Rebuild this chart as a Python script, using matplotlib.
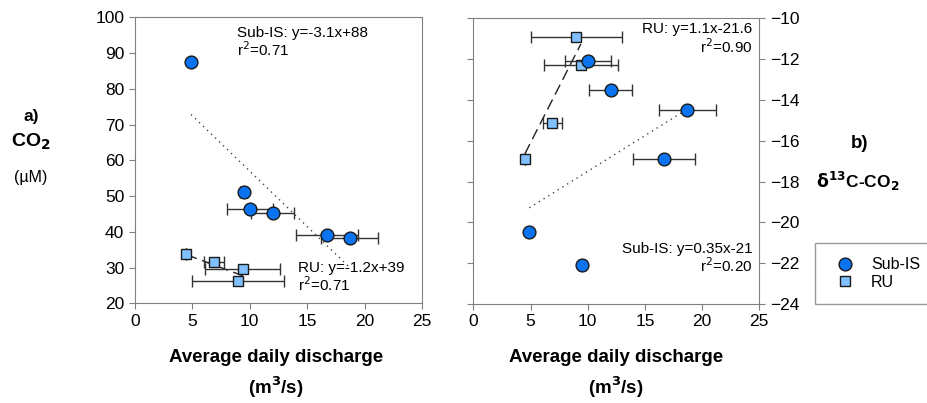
import numpy as np
import matplotlib.pyplot as plt

plt.rcParams['font.family'] = ['Liberation Sans', 'DejaVu Sans']

# Sub-IS data (circles)
sub_q = [4.9, 9.5, 10.0, 12.0, 16.7, 18.7]
sub_qerr = [0.0, 0.3, 2.0, 1.85, 2.7, 2.5]
sub_co2 = [87.6, 51.0, 46.4, 45.2, 39.1, 38.2]
sub_d13c = [-20.45, -22.1, -12.1, -13.5, -16.9, -14.5]

# RU data (squares)
ru_q = [4.5, 6.9, 9.4, 9.0]
ru_qerr = [0.0, 0.85, 3.25, 4.0]
ru_co2 = [33.8, 31.5, 29.6, 26.2]
ru_d13c = [-16.9, -15.15, -12.3, -10.9]

# regression fits (from the labels)
fit_co2_sub = (-3.1, 88)
fit_co2_ru = (-1.2, 39)
fit_d13_sub = (0.35, -21)
fit_d13_ru = (1.1, -21.6)

c_sub = '#0a74f0'
c_ru = '#80c0ff'
W, H = 927, 403

fig = plt.figure(figsize=(W/100, H/100), dpi=100)
ax1 = fig.add_axes([134.7/W, 1-303.3/H, 287.3/W, 286/H])
ax2 = fig.add_axes([473.3/W, 1-304/H, 286/W, 285.7/H])

def draw(ax, yq_sub, yq_ru, fsub, fru):
    x = np.array([min(sub_q), max(sub_q)])
    ax.plot(x, fsub[0]*x+fsub[1], ls=(0, (1, 3)), color='#444444', lw=1)
    x = np.array([min(ru_q), max(ru_q)])
    ax.plot(x, fru[0]*x+fru[1], ls=(0, (8, 4)), color='#222222', lw=1)
    ax.errorbar(ru_q, yq_ru, xerr=ru_qerr, fmt='s', ms=7.7, mfc=c_ru, mec='#1a1a1a',
                mew=1, ecolor='#333333', elinewidth=1, capsize=4, zorder=3)
    ax.errorbar(sub_q, yq_sub, xerr=sub_qerr, fmt='o', ms=9.2, mfc=c_sub, mec='#1a1a1a',
                mew=1, ecolor='#333333', elinewidth=1, capsize=4, zorder=4)
    ax.set_xlim(0, 25)
    ax.set_xticks(range(0, 26, 5))
    for s in ax.spines.values():
        s.set_color('#808080')
    ax.tick_params(color='#808080', labelsize=12.5, length=4)

draw(ax1, sub_co2, ru_co2, fit_co2_sub, fit_co2_ru)
ax1.set_ylim(20, 100)
ax1.set_yticks(range(20, 101, 10))
ax1.text(8.9, 97.6, 'Sub-IS: y=-3.1x+88\nr$^2$=0.71', fontsize=11, va='top', linespacing=1.05)
ax1.text(14.2, 31.9, 'RU: y=-1.2x+39\nr$^2$=0.71', fontsize=11, va='top', linespacing=1.05)

draw(ax2, sub_d13c, ru_d13c, fit_d13_sub, fit_d13_ru)
ax2.set_ylim(-24, -10)
ax2.set_yticks(range(-24, -9, 2))
ax2.tick_params(axis='y', left=True, right=True, labelleft=False, labelright=True)
ax2.text(24.4, -10.2, 'RU: y=1.1x-21.6\nr$^2$=0.90', fontsize=11, va='top', ha='right',
         multialignment='right', linespacing=1.05)
ax2.text(24.4, -20.95, 'Sub-IS: y=0.35x-21\nr$^2$=0.20', fontsize=11, va='top', ha='right',
         multialignment='right', linespacing=1.05)

# side labels
fig.text(31/W, 1-117/H, 'a)', fontsize=12.5, fontweight='bold', ha='center', va='center')
fig.text(31/W, 1-142/H, r'CO$_\mathbf{2}$', fontsize=14, fontweight='bold', ha='center', va='center')
fig.text(31/W, 1-178/H, '(µM)', fontsize=11.5, ha='center', va='center')
fig.text(860/W, 1-143/H, 'b)', fontsize=13.5, fontweight='bold', ha='center', va='center')
fig.text(858/W, 1-181/H, r'$\mathbf{\delta}^\mathbf{13}$C-CO$_\mathbf{2}$', fontsize=12.5,
         fontweight='bold', ha='center', va='center')

for cx in (276, 616):
    fig.text(cx/W, 1-358/H, 'Average daily discharge', fontsize=13.5, fontweight='bold',
             ha='center', va='center')
    fig.text(cx/W, 1-387/H, r'(m$^\mathbf{3}$/s)', fontsize=13.5, fontweight='bold',
             ha='center', va='center')

# legend
h1 = plt.Line2D([], [], ls='', marker='o', ms=9.2, mfc=c_sub, mec='#1a1a1a')
h2 = plt.Line2D([], [], ls='', marker='s', ms=7.7, mfc=c_ru, mec='#1a1a1a')
leg = fig.legend([h1, h2], ['Sub-IS', 'RU'], loc='upper left',
                 bbox_to_anchor=(815/W, 1-243/H), fontsize=11.5, frameon=True,
                 fancybox=False, borderpad=0.9, borderaxespad=0, handletextpad=0.6,
                 labelspacing=0.15)
leg.get_frame().set_edgecolor('#808080')
leg.get_frame().set_linewidth(1)

fig.savefig('out.png', dpi=100)
